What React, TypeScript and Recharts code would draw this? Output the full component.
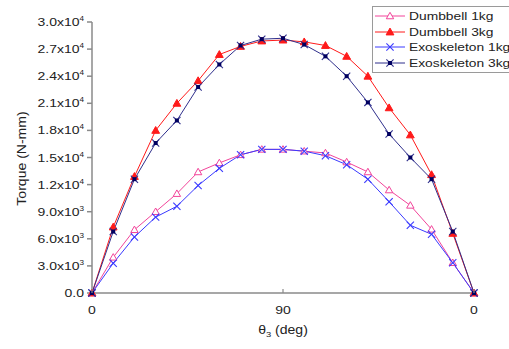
import React from 'react';
import { LineChart, Line, XAxis, YAxis } from 'recharts';

// joint angle theta3 (deg), sampled every 10 deg
const angles = [0, 10, 20, 30, 40, 50, 60, 70, 80, 90, 100, 110, 120, 130, 140, 150, 160, 170, 180];

// torque in N-mm
const dumbbell1 = [0, 3950, 7000, 9000, 11000, 13400, 14400, 15300, 15900, 15900, 15700, 15500, 14500, 13400, 11400, 9700, 7050, 3350, 0];
const dumbbell3 = [0, 7300, 12900, 18000, 21000, 23500, 26400, 27300, 27900, 28000, 27800, 27400, 26200, 24000, 20500, 17500, 13100, 6600, 0];
const exo1 = [0, 3300, 6200, 8400, 9600, 11900, 13800, 15300, 15900, 15900, 15700, 15200, 14200, 12600, 10100, 7500, 6500, 3350, 0];
const exo3 = [0, 6800, 12600, 16600, 19100, 22800, 25300, 27400, 28100, 28200, 27500, 26200, 24000, 21100, 17600, 15000, 12600, 6800, 0];

const yTicks = [0, 3000, 6000, 9000, 12000, 15000, 18000, 21000, 24000, 27000, 30000];
const xTicks = [0, 90, 180];
const xTickLabels = ['0', '90', '0'];

const data = angles.map((a, i) => ({
  angle: a,
  d1: dumbbell1[i],
  d3: dumbbell3[i],
  e1: exo1[i],
  e3: exo3[i],
}));

const FONT = 'Arial, "Liberation Sans", sans-serif';
const TXT = '#222';
const AXIS = '#8a8a8a';
// the source figure's lettering is a bit wide
const SX = 1.17;

const C = {
  d1: '#f2449a',
  d3: '#ff1a1a',
  e1: '#3a3aff',
  e3: '#2f2f8c',
};

function OpenTri({ cx, cy, color }: any) {
  if (cx == null || cy == null) return null;
  const s = 3.7;
  return (
    <polygon
      points={`${cx},${cy - s} ${cx - s},${cy + s * 0.75} ${cx + s},${cy + s * 0.75}`}
      fill="#fff"
      stroke={color}
      strokeWidth={1}
    />
  );
}

function FillTri({ cx, cy, color }: any) {
  if (cx == null || cy == null) return null;
  const s = 3.9;
  return (
    <polygon
      points={`${cx},${cy - s} ${cx - s},${cy + s * 0.75} ${cx + s},${cy + s * 0.75}`}
      fill={color}
      stroke={color}
      strokeWidth={1}
    />
  );
}

function Cross({ cx, cy, color }: any) {
  if (cx == null || cy == null) return null;
  const s = 3.6;
  return (
    <g stroke={color} strokeWidth={1.1}>
      <line x1={cx - s} y1={cy - s} x2={cx + s} y2={cy + s} />
      <line x1={cx - s} y1={cy + s} x2={cx + s} y2={cy - s} />
    </g>
  );
}

function Star({ cx, cy, color }: any) {
  if (cx == null || cy == null) return null;
  const s = 3.6;
  return (
    <g stroke={color} strokeWidth={1.1}>
      <line x1={cx - s} y1={cy - s} x2={cx + s} y2={cy + s} />
      <line x1={cx - s} y1={cy + s} x2={cx + s} y2={cy - s} />
      <rect x={cx - 2} y={cy - 2} width={4} height={4} fill="#000060" stroke="none" />
    </g>
  );
}

const series = [
  { key: 'd1', name: 'Dumbbell 1kg', color: C.d1, Marker: OpenTri },
  { key: 'd3', name: 'Dumbbell 3kg', color: C.d3, Marker: FillTri },
  { key: 'e1', name: 'Exoskeleton 1kg', color: C.e1, Marker: Cross },
  { key: 'e3', name: 'Exoskeleton 3kg', color: C.e3, Marker: Star },
];

function YTick({ x, y, payload }: any) {
  const v = payload.value;
  const exp = v === 0 ? 0 : Math.floor(Math.log10(v));
  const mant = v === 0 ? '0.0' : (v / Math.pow(10, exp)).toFixed(1);
  return (
    <g transform={`translate(${x},${y}) scale(1.25,1)`}>
      <text x={0} y={0} dy={4} textAnchor="end" fontSize={11.2} fontFamily={FONT} fill={TXT}>
        {v === 0 ? (
          mant
        ) : (
          <>
            <tspan>{mant}x10</tspan>
            <tspan dy={-5} fontSize={6.5}>{exp}</tspan>
          </>
        )}
      </text>
    </g>
  );
}

function XTick({ x, y, payload, index }: any) {
  const axisY = y - 13;
  return (
    <g>
      <line x1={x} y1={axisY} x2={x} y2={axisY - 4} stroke={AXIS} strokeWidth={1.2} />
      <g transform={`translate(${x},${y}) scale(1.25,1)`}>
        <text x={0} y={0} dy="0.71em" textAnchor="middle" fontSize={11.2} fontFamily={FONT} fill={TXT}>
          {xTickLabels[index] ?? payload.value}
        </text>
      </g>
    </g>
  );
}

function LegendBox() {
  return (
    <div
      style={{
        position: 'absolute',
        left: 372,
        top: 6,
        width: 145,
        boxSizing: 'border-box',
        border: '1px solid #9a9a9a',
        background: '#fff',
        padding: '1px 0 1px 2px',
        fontFamily: FONT,
        fontSize: 11.8,
        color: TXT,
      }}
    >
      {series.map((s) => (
        <div key={s.key} style={{ display: 'flex', alignItems: 'center', height: 15.7 }}>
          <svg width={30} height={12} style={{ marginRight: 4, flex: 'none' }}>
            <line x1={0} y1={6} x2={30} y2={6} stroke={s.color} strokeWidth={1} />
            <s.Marker cx={15} cy={6} color={s.color} />
          </svg>
          <span
            style={{
              whiteSpace: 'nowrap',
              display: 'inline-block',
              transform: `scaleX(${SX})`,
              transformOrigin: 'left center',
            }}
          >
            {s.name}
          </span>
        </div>
      ))}
    </div>
  );
}

export default function App() {
  return (
    <div style={{ position: 'absolute', left: 0, top: 0, width: 509, height: 349, background: '#fff', overflow: 'hidden' }}>
      <LineChart width={509} height={349} data={data} margin={{ top: 22, right: 35, left: 0, bottom: 0 }}>
        <XAxis
          dataKey="angle"
          type="number"
          domain={[0, 180]}
          ticks={xTicks}
          interval={0}
          tickSize={0}
          tickMargin={13}
          tickLine={false}
          tick={<XTick />}
          height={56}
          stroke={AXIS}
          strokeWidth={1.5}
          label={{
            content: ({ viewBox }: any) => (
              <g transform={`translate(${viewBox.x + viewBox.width / 2},${viewBox.y + 41}) scale(${SX},1)`}>
                <text x={0} y={0} textAnchor="middle" fontSize={12} fontFamily={FONT} fill={TXT}>
                  <tspan>θ</tspan>
                  <tspan dy={3} fontSize={8}>3</tspan>
                  <tspan dy={-3}> (deg)</tspan>
                </text>
              </g>
            ),
          }}
        />
        <YAxis
          type="number"
          domain={[0, 30000]}
          ticks={yTicks}
          interval={0}
          width={92}
          tickSize={5}
          tickMargin={3}
          tick={<YTick />}
          stroke={AXIS}
          strokeWidth={1.5}
          label={{
            content: ({ viewBox }: any) => {
              const cx = viewBox.x + 23;
              const cy = viewBox.y + viewBox.height / 2 + 1;
              return (
                <g transform={`translate(${cx},${cy}) rotate(-90) scale(${SX},1)`}>
                  <text
                    x={0}
                    y={0}
                    textAnchor="middle"
                    dominantBaseline="middle"
                    fontSize={12}
                    fontFamily={FONT}
                    fill={TXT}
                  >
                    Torque (N-mm)
                  </text>
                </g>
              );
            },
          }}
        />
        {series.map((s) => (
          <Line
            key={s.key}
            dataKey={s.key}
            name={s.name}
            type="linear"
            stroke={s.color}
            strokeWidth={1}
            isAnimationActive={false}
            dot={(p: any) => <s.Marker key={`${s.key}-${p.index}`} cx={p.cx} cy={p.cy} color={s.color} />}
            activeDot={false}
          />
        ))}
      </LineChart>
      <LegendBox />
    </div>
  );
}
